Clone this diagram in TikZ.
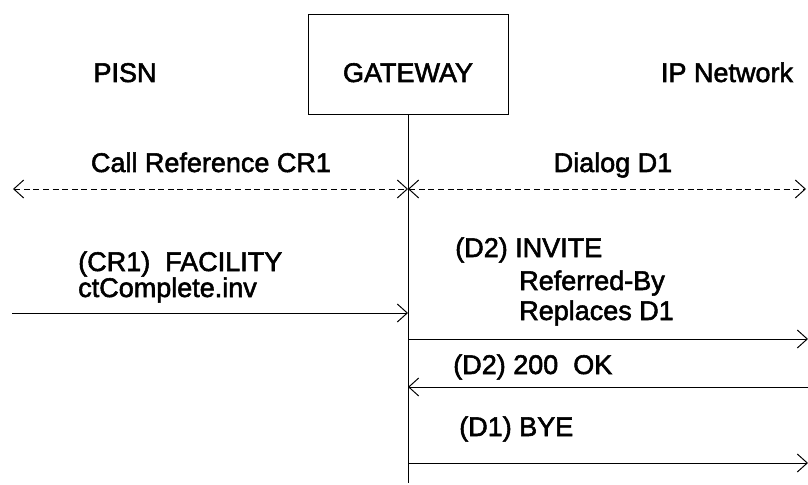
\documentclass[tikz,border=0pt]{standalone}
\usepackage{fontspec}
\setmainfont{Liberation Sans}[UprightFeatures={FakeBold=2}]
\usepackage{tikz}
\usetikzlibrary{arrows.meta}
\usetikzlibrary{positioning}
\tikzset{msg/.style = {-{Straight Barb[length=0.25cm,width=0.45cm]}, line width=0.7pt}}
\tikzset{span/.style = {{Straight Barb[length=0.25cm,width=0.45cm]}-{Straight Barb[length=0.25cm,width=0.45cm]},
                        line width=0.7pt, dash pattern=on 0.15cm off 0.09cm}}
\tikzset{lbl/.style = {inner sep=0pt, anchor=base west, font=\fontsize{19.2}{23}\selectfont}}
\tikzset{gwbox/.style = {draw, line width=0.7pt, inner sep=0pt, anchor=base, minimum width=5cm,
                         text height=1.7cm, text depth=0.8cm, font=\fontsize{19.2}{23}\selectfont}}

\begin{document}
\begin{tikzpicture}
			\useasboundingbox (0, 0) rectangle (20.2, -12.125);
			\node [gwbox] (0) at (10.2, -2.05) {GATEWAY};
			\node [lbl, anchor=base] (1) at (3.125, -2.05) {PISN};
			\node [lbl, anchor=base] (2) at (18.175, -2.05) {IP Network};
			\node (3) at (10.2, -12.075) {};
			\node [lbl, anchor=base] (4) at (5.275, -4.3) {Call Reference CR1};
			\node [lbl, anchor=base] (5) at (15.325, -4.3) {Dialog D1};
			\node (6) at (0.325, -4.725) {};
			\node (7) at (10.2, -4.725) {};
			\node (8) at (20.15, -4.725) {};
			\node [lbl] (9) at (1.95, -6.775) {(CR1)\ \ FACILITY};
			\node [lbl] (10) at (1.95, -7.425) {ctComplete.inv};
			\node (11) at (0.3, -7.825) {};
			\node (12) at (10.2, -7.825) {};
			\node [lbl] (13) at (11.375, -6.425) {(D2) INVITE};
			\node [lbl] (14) at (12.975, -7.25) {Referred-By};
			\node [lbl] (15) at (12.975, -8.0) {Replaces D1};
			\node (16) at (10.2, -8.475) {};
			\node (17) at (20.2, -8.475) {};
			\node [lbl] (18) at (11.325, -9.35) {(D2) 200\ \ OK};
			\node (19) at (20.2, -9.675) {};
			\node (20) at (10.2, -9.675) {};
			\node [lbl] (21) at (11.475, -10.9) {(D1) BYE};
			\node (22) at (10.2, -11.575) {};
			\node (23) at (20.2, -11.575) {};
			\draw [line width=0.7pt] (0.south) to (3.center);
			\draw [span] (6.center) to (7.center);
			\draw [span] (7.center) to (8.center);
			\draw [msg] (11.center) to (12.center);
			\draw [msg] (16.center) to (17.center);
			\draw [msg] (19.center) to (20.center);
			\draw [msg] (22.center) to (23.center);
		\end{tikzpicture}
\end{document}
